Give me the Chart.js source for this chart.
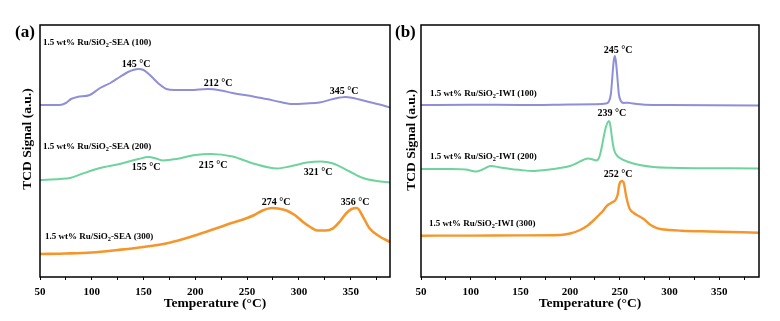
<!DOCTYPE html>
<html>
<head>
<meta charset="utf-8">
<script src="https://cdn.jsdelivr.net/npm/chart.js@4.4.1/dist/chart.umd.min.js"></script>
<style>
  html, body { margin: 0; padding: 0; background: #fff; }
  #wrap { position: relative; width: 780px; height: 321px; overflow: hidden; background: #fff; }
  canvas { position: absolute; top: 0; }
  #cA { left: 0; }
  #cB { left: 392px; }
</style>
</head>
<body>
<div id="wrap">
  <canvas id="cA" width="395" height="321"></canvas>
  <canvas id="cB" width="388" height="321"></canvas>
</div>
<script>
// ---- Panel (a): Ru/SiO2-SEA, TCD signal vs temperature (offset traces, a.u.) ----
const tempA100 = [50, 69, 75, 80, 86, 98, 108, 118, 127, 135, 140, 145, 150, 155, 160, 165, 172, 180, 195, 212, 225, 236, 256, 269, 282, 294, 307, 320, 333, 345, 352, 366, 378, 388];
const sigA100  = [172, 172, 174, 178, 180, 182, 189, 194, 200, 205, 207, 208, 207, 203, 198, 193, 188, 187, 187, 188, 186.5, 184, 180.5, 178, 175, 173, 173.5, 174.5, 178, 180, 179, 175.5, 172.5, 169.5];

const tempA200 = [50, 69, 79, 90, 108, 127, 145, 155, 162, 169, 182, 200, 215, 236, 256, 279, 291, 308, 321, 333, 349, 362, 375, 388];
const sigA200  = [97, 98, 99, 103, 109, 113, 118, 120, 118.5, 116.5, 118, 122, 123, 120.5, 113.5, 108.5, 110.5, 114.5, 115.5, 113.5, 105.5, 99, 96, 94.5];

const tempA300 = [50, 75, 100, 125, 150, 175, 195, 210, 224, 235, 243, 250, 257, 265, 274, 280, 288, 296, 304, 311, 318, 326, 333, 340, 346, 351, 356, 362, 368, 378, 388];
const sigA300  = [23, 23.5, 24.5, 27, 30, 34.3, 40, 45, 50, 54, 56.5, 59, 62, 66.5, 69, 68.5, 66.5, 62, 55, 50, 46.5, 46.5, 48.7, 56, 64, 68, 69, 60, 49, 40.5, 35];

const peaksA100 = [145, 212, 345];
const peaksA200 = [155, 215, 321];
const peaksA300 = [274, 356];

// ---- Panel (b): Ru/SiO2-IWI ----
const tempB100 = [50, 100, 150, 200, 225, 236, 239, 241, 242, 243, 244, 245, 246, 247, 248, 249, 251, 254, 258, 263, 275, 300, 390];
const sigB100  = [172, 172.3, 172, 172.5, 172.8, 173.5, 175.5, 183, 194, 207, 217, 221, 216, 206, 194, 183, 176, 174, 174.3, 173.5, 172.3, 172, 171.5];

const tempB200 = [50, 80, 95, 105, 112, 120, 130, 140, 150, 162, 175, 187, 200, 207, 213, 218, 223, 226, 229, 231, 233, 235, 237, 239, 240, 241, 242, 244, 246, 250, 258, 270, 284, 300, 390];
const sigB200  = [108, 108, 107.5, 105.5, 107.5, 111, 109.5, 108, 107, 106, 107, 108.5, 111, 114, 117, 118.5, 117.5, 116.5, 119, 126, 136, 146, 153, 156, 154, 148, 140, 128, 123, 119, 115.3, 112, 110, 109.3, 108.5];

const tempB300 = [50, 100, 150, 190, 200, 210, 217, 224, 229, 233, 236, 238, 242, 246, 248, 249, 250, 251, 252, 253, 254, 255, 256, 258, 260, 264, 268, 274, 281, 288, 300, 312, 340, 390];
const sigB300  = [41.3, 41.4, 41.6, 42, 43.5, 47, 51, 57, 62, 66, 70, 72, 74.5, 77.5, 83, 90, 94, 95.5, 96, 95.5, 94, 89, 83, 74, 68, 64, 61.5, 58, 52, 48.7, 47, 46.3, 45.5, 44.3];

const peaksB100 = [245];
const peaksB200 = [239];
const peaksB300 = [252];

const xTickLabels = [50, 100, 150, 200, 250, 300, 350];

// ---- styling ----
const FONT = '"Liberation Serif", "Times New Roman", serif';
const PURPLE = '#8f8fd9';
const GREEN = '#6ed39c';
const ORANGE = '#f5962d';

function toPoints(xs, ys) { return xs.map((x, i) => ({ x, y: ys[i] })); }

function series(xs, ys, color, width) {
  return {
    data: toPoints(xs, ys), borderColor: color, borderWidth: width,
    pointRadius: 0, fill: false, tension: 0.4, cubicInterpolationMode: 'monotone'
  };
}

// text with a subscript run, e.g. SiO2
function drawRuns(ctx, runs, x, y, size) {
  let cx = x;
  ctx.textAlign = 'left';
  ctx.textBaseline = 'middle';
  for (const [t, sub] of runs) {
    const s = sub ? size * 0.7 : size;
    ctx.font = `bold ${s}px ${FONT}`;
    ctx.fillText(t, cx, sub ? y + size * 0.28 : y);
    cx += ctx.measureText(t).width;
  }
}

function sampleRuns(method, calc) {
  return [['1.5 wt% Ru/SiO', false], ['2', true], [`-${method} (${calc})`, false]];
}

function decor(cfg) {
  return {
    id: 'decor',
    afterDraw(chart) {
      const { ctx, chartArea: a, scales: { x, y } } = chart;
      ctx.save();
      // frame
      ctx.strokeStyle = '#000';
      ctx.lineWidth = 1.5;
      ctx.strokeRect(a.left, a.top, a.right - a.left, a.bottom - a.top);
      ctx.fillStyle = '#000';
      // panel tag
      ctx.font = `bold 17px ${FONT}`;
      ctx.textAlign = 'left';
      ctx.textBaseline = 'middle';
      ctx.fillText(cfg.tag, cfg.tagX, 33);
      // y title
      ctx.save();
      ctx.translate(cfg.yTitleX, cfg.yTitleY);
      ctx.rotate(-Math.PI / 2);
      ctx.font = `bold 13.5px ${FONT}`;
      ctx.textAlign = 'center';
      ctx.textBaseline = 'middle';
      ctx.fillText('TCD Signal (a.u.)', 0, 0);
      ctx.restore();
      // sample names
      for (const s of cfg.samples) {
        drawRuns(ctx, sampleRuns(cfg.method, s.calc), x.getPixelForValue(s.at[0]), y.getPixelForValue(s.at[1]), 9);
      }
      // peak temperatures
      ctx.font = `bold 10px ${FONT}`;
      ctx.textAlign = 'center';
      ctx.textBaseline = 'middle';
      for (const p of cfg.peaks) {
        ctx.fillText(`${p.t} °C`, x.getPixelForValue(p.at[0]), y.getPixelForValue(p.at[1]));
      }
      ctx.restore();
    }
  };
}

function makeChart(id, datasets, xMax, yAxisWidth, padRight, plugin) {
  return new Chart(document.getElementById(id), {
    type: 'line',
    data: { datasets },
    options: {
      responsive: false, animation: false, devicePixelRatio: 1,
      layout: { padding: { top: 25, right: padRight, left: 0, bottom: 0 } },
      plugins: { legend: { display: false }, tooltip: { enabled: false } },
      scales: {
        x: {
          type: 'linear', min: 50, max: xMax,
          afterFit: s => { s.height = 44; },
          border: { display: false },
          grid: { drawOnChartArea: false, drawTicks: true, tickLength: 3, color: '#000', tickColor: '#000', lineWidth: 1 },
          ticks: {
            stepSize: 25, includeBounds: false, autoSkip: false, maxRotation: 0, padding: 6,
            color: '#000', font: { family: FONT, size: 11, weight: 'bold' },
            callback: v => xTickLabels.includes(v) ? String(v) : ''
          },
          title: {
            display: true, text: 'Temperature (°C)', color: '#000',
            font: { family: FONT, size: 13.5, weight: 'bold' }, padding: { top: 0, bottom: 9 }
          }
        },
        y: {
          type: 'linear', min: 0, max: 252,
          afterFit: s => { s.width = yAxisWidth; },
          border: { display: false }, grid: { display: false }, ticks: { display: false }
        }
      }
    },
    plugins: [plugin]
  });
}

makeChart('cA', [
  series(tempA100, sigA100, PURPLE, 2),
  series(tempA200, sigA200, GREEN, 2),
  series(tempA300, sigA300, ORANGE, 2.6)
], 388, 40, 5, decor({
  tag: '(a)', tagX: 15, yTitleX: 28, yTitleY: 139, method: 'SEA',
  samples: [
    { calc: 100, at: [52.9, 234] },
    { calc: 200, at: [52.9, 130] },
    { calc: 300, at: [54.8, 40] }
  ],
  peaks: [
    { t: peaksA100[0], at: [142.7, 213] },
    { t: peaksA100[1], at: [221.9, 194] },
    { t: peaksA100[2], at: [343.6, 186] },
    { t: peaksA200[0], at: [152.4, 109.5] },
    { t: peaksA200[1], at: [217.1, 112] },
    { t: peaksA200[2], at: [318.5, 105] },
    { t: peaksA300[0], at: [277.9, 75] },
    { t: peaksA300[1], at: [354.2, 74.5] }
  ]
}));

makeChart('cB', [
  series(tempB100, sigB100, PURPLE, 2),
  series(tempB200, sigB200, GREEN, 2),
  series(tempB300, sigB300, ORANGE, 2.4)
], 390, 29, 21, decor({
  tag: '(b)', tagX: 3, yTitleX: 20, yTitleY: 140, method: 'IWI',
  samples: [
    { calc: 100, at: [59.1, 183] },
    { calc: 200, at: [59.1, 120] },
    { calc: 300, at: [58.0, 53] }
  ],
  peaks: [
    { t: peaksB100[0], at: [248.2, 227] },
    { t: peaksB200[0], at: [242.1, 164] },
    { t: peaksB300[0], at: [248.2, 102.5] }
  ]
}));
</script>
</body>
</html>
